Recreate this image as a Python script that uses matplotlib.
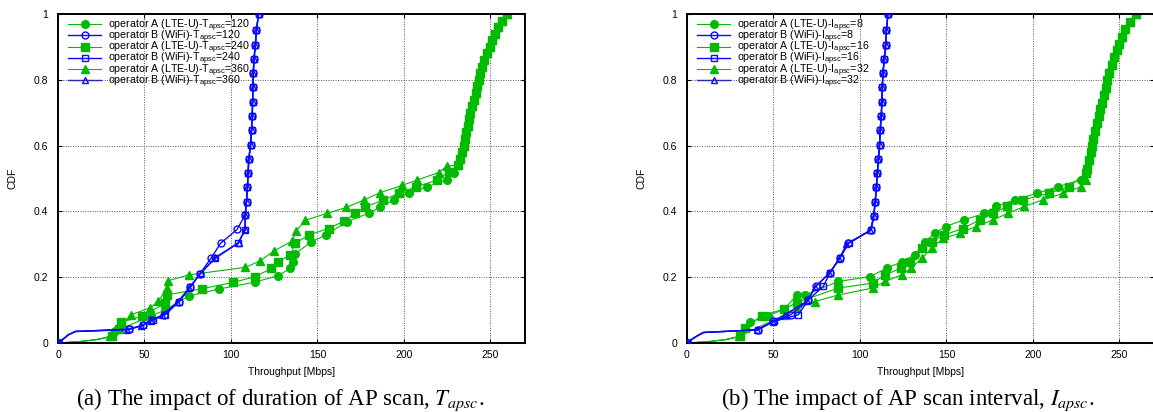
import matplotlib

matplotlib.use("Agg")
import matplotlib.pyplot as plt

plt.rcParams["font.family"] = ["Liberation Sans", "DejaVu Sans"]
plt.rcParams["mathtext.fontset"] = "custom"
plt.rcParams["mathtext.rm"] = "Liberation Sans"
plt.rcParams["mathtext.it"] = "Liberation Sans:italic"

GREEN = "#00bb00"
BLUE = "#0a0aff"

# ---- panel (a): duration of AP scan, T_apsc ----
wifi_top_a_x = [108.2, 109.0, 109.5, 109.9, 110.3, 111.3, 111.9, 112.3, 112.5, 112.7, 112.9, 113.3, 114.1, 114.7, 116.0]
wifi_top_a_y = [0.389, 0.430, 0.473, 0.516, 0.558, 0.602, 0.647, 0.690, 0.733, 0.777, 0.820, 0.862, 0.906, 0.951, 1.0]

wifi_a120_x = [0, 3, 6, 10, 41, 49, 54, 61, 70, 76.5, 82, 88.5, 94, 103.5]
wifi_a120_y = [0, 0.012, 0.025, 0.035, 0.042, 0.054, 0.07, 0.086, 0.126, 0.17, 0.21, 0.258, 0.303, 0.345]
wifi_a240_x = [0, 3, 6, 10, 41, 49, 55, 62, 70, 76.5, 82, 91, 104, 108]
wifi_a240_y = [0, 0.012, 0.025, 0.035, 0.042, 0.054, 0.07, 0.086, 0.126, 0.17, 0.21, 0.258, 0.303, 0.343]
wifi_a360_x = [0, 3, 6, 10, 40, 48, 54, 60, 69, 76, 82.5, 91, 104.5, 108.3]
wifi_a360_y = [0, 0.012, 0.025, 0.035, 0.04, 0.052, 0.068, 0.084, 0.124, 0.168, 0.212, 0.26, 0.305, 0.345]

lte_top_a_x = [231.5, 232.5, 233.5, 234.5, 235.3, 236.0, 236.8, 237.5, 238.3, 239.5, 240.5, 241.6,
               242.4, 243.2, 244.0, 245.0, 246.5, 248.0, 249.5, 251.0, 252.5, 254.3, 256.5, 259.5]
lte_top_a_y = [0.54, 0.56, 0.58, 0.60, 0.62, 0.64, 0.66, 0.68, 0.70, 0.72, 0.74, 0.76,
               0.78, 0.80, 0.82, 0.84, 0.86, 0.88, 0.90, 0.92, 0.94, 0.96, 0.98, 1.0]

lte_a120_x = [0, 12, 22, 31, 33, 54, 62, 75.5, 93, 113.7, 127, 134.4, 135.9, 137.2, 146.5, 155, 167,
              179.6, 186.3, 194.4, 202.7, 213.4, 225, 228.8]
lte_a120_y = [0, 0.004, 0.01, 0.02, 0.035, 0.083, 0.1, 0.143, 0.164, 0.185, 0.204, 0.227, 0.247, 0.271,
              0.308, 0.328, 0.369, 0.394, 0.414, 0.435, 0.455, 0.475, 0.495, 0.516]
lte_a240_x = [0, 12, 22, 31, 35, 36.3, 48.5, 62, 62.9, 83.2, 101.2, 114.1, 123.4, 127.3, 134.4, 137.2,
              144.9, 156.4, 165.5, 171.9, 177.7, 187.9, 197, 207.2, 219.2, 225.9]
lte_a240_y = [0, 0.004, 0.01, 0.02, 0.042, 0.063, 0.081, 0.121, 0.146, 0.165, 0.184, 0.202, 0.227,
              0.247, 0.268, 0.303, 0.328, 0.348, 0.371, 0.394, 0.414, 0.434, 0.455, 0.475, 0.495, 0.521]
lte_a360_x = [0, 12, 22, 30, 42.3, 53.3, 58.1, 62.9, 63.5, 75.5, 108.4, 117, 124.8, 135.5, 137.5, 143,
              155.5, 166.7, 177, 186.3, 198.9, 207.5, 220, 225]
lte_a360_y = [0, 0.004, 0.01, 0.02, 0.086, 0.107, 0.127, 0.167, 0.189, 0.207, 0.230, 0.250, 0.280,
              0.310, 0.340, 0.373, 0.394, 0.412, 0.435, 0.457, 0.479, 0.495, 0.518, 0.539]

# ---- panel (b): AP scan interval, I_apsc ----
wifi_top_b_x = [108.0, 108.8, 109.5, 110.0, 110.7, 111.3, 111.7, 112.3, 112.7, 112.9, 113.3, 114.0, 114.9, 115.3, 116.2]
wifi_top_b_y = [0.386, 0.430, 0.473, 0.516, 0.558, 0.602, 0.647, 0.690, 0.733, 0.777, 0.820, 0.862, 0.906, 0.951, 1.0]

wifi_b8_x = [0, 3, 6, 9.5, 40.8, 49.9, 60, 70.1, 74.4, 82.7, 88.4, 92.9, 106.4]
wifi_b8_y = [0, 0.012, 0.022, 0.032, 0.040, 0.066, 0.086, 0.131, 0.172, 0.214, 0.258, 0.303, 0.343]
wifi_b16_x = [0, 3, 6, 9.5, 40.8, 50.5, 64.4, 70.1, 78.8, 82.7, 88.4, 93.5, 106.4]
wifi_b16_y = [0, 0.012, 0.022, 0.032, 0.040, 0.066, 0.086, 0.131, 0.172, 0.214, 0.258, 0.303, 0.343]
wifi_b32_x = [0, 3, 6, 9.5, 40.3, 49.5, 56.6, 69.5, 74.0, 82.2, 88.0, 92.2, 106.0]
wifi_b32_y = [0, 0.012, 0.022, 0.032, 0.040, 0.064, 0.086, 0.128, 0.170, 0.212, 0.256, 0.300, 0.343]

lte_top_b_x = [231.0, 232.5, 233.5, 234.3, 235.0, 236.0, 237.0, 238.0, 239.0, 240.0, 241.0,
               242.0, 243.0, 244.0, 245.5, 247.0, 248.5, 250.0, 251.5, 253.5, 256.0, 259.5]
lte_top_b_y = [0.53, 0.555, 0.58, 0.60, 0.62, 0.645, 0.67, 0.69, 0.71, 0.73, 0.755,
               0.775, 0.80, 0.82, 0.845, 0.87, 0.89, 0.91, 0.93, 0.955, 0.975, 1.0]

lte_b8_x = [0, 12, 22, 30.6, 36.4, 47, 56.3, 63.4, 68.2, 87.5, 105.8, 115.4, 124.1, 131.8, 137.6,
            143.2, 149.5, 159.9, 172, 178.8, 189.4, 202.3, 214.4, 227.9]
lte_b8_y = [0, 0.004, 0.01, 0.02, 0.063, 0.083, 0.103, 0.146, 0.146, 0.187, 0.202, 0.227, 0.247,
            0.268, 0.308, 0.333, 0.354, 0.374, 0.394, 0.415, 0.435, 0.455, 0.475, 0.496]
lte_b16_x = [0, 12, 22, 30.6, 33.5, 43.2, 56.3, 63.4, 87.5, 107.3, 114.5, 123.7, 128.9, 136, 141.4,
             148.5, 159.5, 169.2, 176.9, 184.9, 194.2, 209.2, 220.7, 230.8]
lte_b16_y = [0, 0.004, 0.01, 0.02, 0.045, 0.083, 0.103, 0.123, 0.167, 0.182, 0.207, 0.227, 0.247,
             0.288, 0.308, 0.328, 0.348, 0.374, 0.394, 0.415, 0.435, 0.455, 0.475, 0.516]
lte_b32_x = [0, 12, 22, 30, 56.6, 63.4, 74, 87.5, 107.3, 114.5, 124.1, 129.4, 136, 141.4, 148.2,
             157.6, 167, 176.9, 185.5, 195, 205.7, 217.5, 227.9, 230.8]
lte_b32_y = [0, 0.004, 0.01, 0.02, 0.086, 0.106, 0.126, 0.146, 0.167, 0.187, 0.207, 0.227, 0.258,
             0.288, 0.318, 0.333, 0.354, 0.374, 0.394, 0.415, 0.435, 0.455, 0.475, 0.496]

x_ticks = [0, 50, 100, 150, 200, 250]
y_ticks = [0, 0.2, 0.4, 0.6, 0.8, 1.0]
y_tick_labels = ["0", "0.2", "0.4", "0.6", "0.8", "1"]


def draw_curve(ax, x, y, color, marker, filled, label, unmarked, zorder):
    marks = [i for i in range(len(x)) if i not in unmarked]
    ax.plot(
        x, y, color=color, lw=1.0 if color == BLUE else 0.8, marker=marker, markevery=marks,
        ms=5.5 if filled else 5, mfc=color if filled else "none", mec=color, mew=1.0,
        label=label, zorder=zorder,
    )


def draw_panel(ax, lte, lte_top, wifi, wifi_top, param, values):
    markers = ["o", "s", "^"]
    for (lx, ly), (wx, wy), marker, value in zip(lte, wifi, markers, values):
        sub = r"$_{\mathrm{apsc}}$"
        draw_curve(ax, lx + lte_top[0], ly + lte_top[1], GREEN, marker, True,
                   f"operator A (LTE-U)-{param}{sub}={value}", {1, 2}, 2)
        draw_curve(ax, wx + wifi_top[0], wy + wifi_top[1], BLUE, marker, False,
                   f"operator B (WiFi)-{param}{sub}={value}", {1, 2, 3}, 3)

    ax.set_xlim(0, 270)
    ax.set_ylim(0, 1)
    ax.set_xticks(x_ticks)
    ax.set_yticks(y_ticks)
    ax.set_yticklabels(y_tick_labels)
    ax.grid(True, color="#555555", linestyle=(0, (1, 1.5)), linewidth=0.7)
    ax.tick_params(direction="in", length=3, width=0.8, top=True, right=True, labelsize=7.5)
    ax.tick_params(axis="x", pad=5)
    ax.tick_params(axis="y", pad=7)
    for spine in ax.spines.values():
        spine.set_linewidth(1.4)
    ax.set_xlabel("Throughput [Mbps]", fontsize=7.5, labelpad=5)
    ax.set_ylabel("CDF", fontsize=7.5, labelpad=12)

    leg = ax.legend(
        loc="upper left", bbox_to_anchor=(0.015, 1.0), fontsize=7.7, frameon=True, fancybox=False,
        edgecolor="none", facecolor="white", framealpha=1.0, handlelength=3.1, handletextpad=0.6,
        labelspacing=-0.48, borderpad=0.2, borderaxespad=0.1,
    )
    leg.set_zorder(1)


fig = plt.figure(figsize=(11.53, 4.12), dpi=100)
ax_a = fig.add_axes([58 / 1153, 69 / 412, 467 / 1153, 329 / 412])
ax_b = fig.add_axes([687 / 1153, 69 / 412, 467 / 1153, 329 / 412])

draw_panel(
    ax_a,
    [(lte_a120_x, lte_a120_y), (lte_a240_x, lte_a240_y), (lte_a360_x, lte_a360_y)],
    (lte_top_a_x, lte_top_a_y),
    [(wifi_a120_x, wifi_a120_y), (wifi_a240_x, wifi_a240_y), (wifi_a360_x, wifi_a360_y)],
    (wifi_top_a_x, wifi_top_a_y),
    "T", [120, 240, 360],
)
draw_panel(
    ax_b,
    [(lte_b8_x, lte_b8_y), (lte_b16_x, lte_b16_y), (lte_b32_x, lte_b32_y)],
    (lte_top_b_x, lte_top_b_y),
    [(wifi_b8_x, wifi_b8_y), (wifi_b16_x, wifi_b16_y), (wifi_b32_x, wifi_b32_y)],
    (wifi_top_b_x, wifi_top_b_y),
    "I", [8, 16, 32],
)

caption_style = dict(fontsize=16.5, family="Liberation Serif", math_fontfamily="stix",
                     ha="center", va="baseline")
fig.text(280 / 1153, 1 - 405 / 412, r"(a) The impact of duration of AP scan, $T_{apsc}$.", **caption_style)
fig.text(908 / 1153, 1 - 405 / 412, r"(b) The impact of AP scan interval, $I_{apsc}$.", **caption_style)

fig.savefig("out.png", dpi=100)
